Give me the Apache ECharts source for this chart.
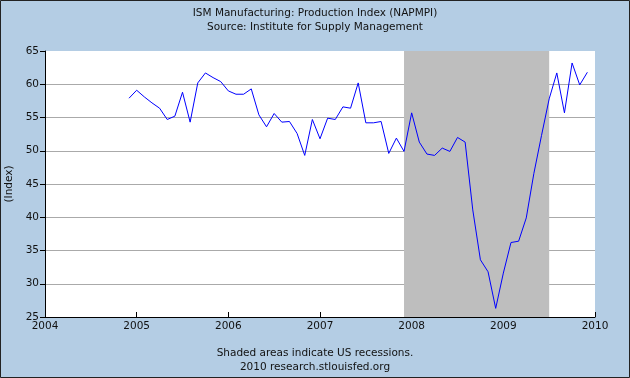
<!DOCTYPE html>
<html>
<head>
<meta charset="utf-8">
<script src="https://cdn.jsdelivr.net/npm/echarts@6/dist/echarts.min.js"></script>
<style>
html,body{margin:0;padding:0;background:#b4cde4;}
#c{width:630px;height:378px;}
</style>
</head>
<body>
<div id="c"></div>
<script>
// Monthly data, Dec 2004 .. Dec 2009
var startYear = 2004, startMonth = 12;
var values = [
  57.9, 59.1, 58.1, 57.2, 56.4, 54.7, 55.2, 58.8, 54.3, 60.2, 61.7, 61.0, 60.4,
  59.0, 58.5, 58.5, 59.3, 55.4, 53.6, 55.6, 54.3, 54.4, 52.6, 49.3, 54.7,
  51.8, 54.9, 54.7, 56.6, 56.4, 60.2, 54.2, 54.2, 54.4, 49.6, 51.9, 49.9,
  55.7, 51.3, 49.5, 49.3, 50.4, 49.9, 52.0, 51.3, 41.1, 33.6, 31.8, 26.3,
  31.6, 36.2, 36.4, 39.9, 46.6, 52.3, 57.8, 61.7, 55.7, 63.2, 59.9, 61.8
];
var recessionStart = [2007, 12];
var recessionEnd = [2009, 7];
var yearTicks = [2004, 2005, 2006, 2007, 2008, 2009, 2010];
var yTicks = [25, 30, 35, 40, 45, 50, 55, 60, 65];
var titleLines = ['ISM Manufacturing: Production Index (NAPMPI)', 'Source: Institute for Supply Management'];
var footerLines = ['Shaded areas indicate US recessions.', '2010 research.stlouisfed.org'];
var yName = '(Index)';

function ym(y, m) { return y + (m - 1) / 12; }
var data = values.map(function (v, i) {
  var mo = startMonth - 1 + i;
  return [ym(startYear + Math.floor(mo / 12), (mo % 12) + 1), v];
});

var font = 'DejaVu Sans';
var chart = echarts.init(document.getElementById('c'), null, {renderer: 'canvas'});
chart.setOption({
  backgroundColor: '#b4cde4',
  animation: false,
  textStyle: {fontFamily: font},
  title: [
    {text: titleLines.join('\n'), left: 'center', top: 1,
     textStyle: {fontFamily: font, fontSize: 10.5, fontWeight: 'normal', color: '#111', lineHeight: 14, align: 'center'}},
    {text: footerLines.join('\n'), left: 'center', top: 341,
     textStyle: {fontFamily: font, fontSize: 10.5, fontWeight: 'normal', color: '#111', lineHeight: 14, align: 'center'}}
  ],
  grid: {left: 45, right: 35, top: 51, bottom: 61, show: true, backgroundColor: '#fff', borderWidth: 0,
         containLabel: false, outerBoundsMode: 'none'},
  xAxis: {
    type: 'value', min: yearTicks[0], max: yearTicks[yearTicks.length - 1], interval: 1,
    axisLine: {show: true, lineStyle: {color: '#000', width: 1}},
    axisTick: {show: true, inside: true, length: 5, lineStyle: {color: '#000'}},
    axisLabel: {color: '#111', fontSize: 10.5, fontFamily: font, margin: 4, formatter: function (v) { return String(Math.round(v)); }},
    splitLine: {show: false}
  },
  yAxis: {
    type: 'value', min: yTicks[0], max: yTicks[yTicks.length - 1], interval: 5,
    name: yName, nameLocation: 'middle', nameRotate: 90, nameGap: 30,
    nameTextStyle: {color: '#111', fontSize: 10.5, fontFamily: font},
    axisLine: {show: true, lineStyle: {color: '#000', width: 1}},
    axisTick: {show: true, inside: false, length: 5, lineStyle: {color: '#000'}},
    axisLabel: {color: '#111', fontSize: 10.5, fontFamily: font, margin: 6},
    splitLine: {show: true, showMinLine: false, showMaxLine: false, lineStyle: {color: '#aaaaaa', width: 1}}
  },
  series: [{
    type: 'line', data: data, showSymbol: false, symbol: 'none',
    lineStyle: {color: '#0000ff', width: 1}, z: 5,
    markArea: {
      silent: true,
      itemStyle: {color: '#bebebe', opacity: 1},
      data: [[{xAxis: ym(recessionStart[0], recessionStart[1])}, {xAxis: ym(recessionEnd[0], recessionEnd[1])}]]
    }
  }],
  graphic: [{
    type: 'rect', shape: {x: 0.5, y: 0.5, width: 629, height: 377},
    style: {fill: 'none', stroke: '#222', lineWidth: 1}, z: 100, silent: true
  }]
});
</script>
</body>
</html>
